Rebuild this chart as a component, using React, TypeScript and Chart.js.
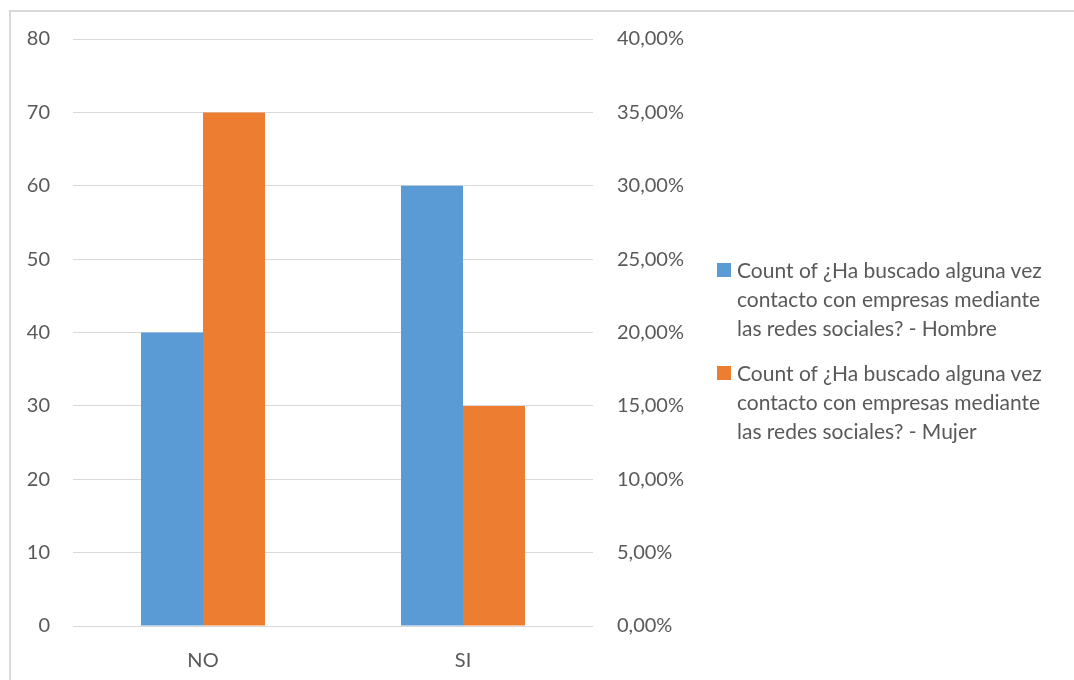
import React, { useEffect, useRef } from "react";
import { Chart, registerables } from "chart.js";

Chart.register(...registerables);

// Categories and series values
const categories = ["NO", "SI"];
const hombreCounts = [40, 60];
const mujerCounts = [70, 30];

// Axis ranges
const countMax = 80;
const countStep = 10;
const pctMax = 0.4;
const pctStep = 0.05;

// Legend text, one entry per series, broken into lines
const hombreLabelLines = [
  "Count of ¿Ha buscado alguna vez",
  "contacto con empresas mediante",
  "las redes sociales? - Hombre",
];
const mujerLabelLines = [
  "Count of ¿Ha buscado alguna vez",
  "contacto con empresas mediante",
  "las redes sociales? - Mujer",
];

const BLUE = "#5B9BD5";
const ORANGE = "#ED7D31";
const TEXT = "#595959";
const GRID = "#D9D9D9";
const FONT = "Lato, 'Open Sans', sans-serif";

const W = 1074;
const H = 680;

function formatPct(v: number): string {
  return (v * 100).toFixed(2).replace(".", ",") + "%";
}

function LegendEntry({ color, lines, top }: { color: string; lines: string[]; top: number }) {
  return (
    <div style={{ position: "absolute", left: 717, top, display: "flex", alignItems: "flex-start" }}>
      <div style={{ width: 14, height: 14, background: color, marginTop: 8, marginRight: 6, flex: "none" }} />
      <div style={{ fontFamily: FONT, fontSize: 21, lineHeight: "29px", color: TEXT, whiteSpace: "nowrap" }}>
        {lines.map((l, i) => (
          <div key={i}>{l}</div>
        ))}
      </div>
    </div>
  );
}

export default function App() {
  const canvasRef = useRef<HTMLCanvasElement | null>(null);

  useEffect(() => {
    if (!canvasRef.current) return;
    const tickFont = { family: FONT, size: 20 };
    const chart = new Chart(canvasRef.current, {
      type: "bar",
      data: {
        labels: categories,
        datasets: [
          {
            label: hombreLabelLines.join(" "),
            data: hombreCounts,
            backgroundColor: BLUE,
            yAxisID: "y",
            barPercentage: 1,
            categoryPercentage: 0.477,
          },
          {
            label: mujerLabelLines.join(" "),
            data: mujerCounts,
            backgroundColor: ORANGE,
            yAxisID: "y",
            barPercentage: 1,
            categoryPercentage: 0.477,
          },
        ],
      },
      options: {
        responsive: false,
        animation: false,
        devicePixelRatio: 1,
        layout: { padding: { left: 0, top: 39, right: 0, bottom: 0 } },
        plugins: {
          legend: { display: false },
          tooltip: { enabled: false },
        },
        scales: {
          x: {
            grid: { display: false, drawTicks: false },
            border: { display: false },
            ticks: { color: TEXT, font: tickFont, padding: 23 },
            afterFit: (s: any) => {
              s.height = 54;
            },
          },
          y: {
            position: "left",
            min: 0,
            max: countMax,
            ticks: {
              stepSize: countStep,
              color: TEXT,
              font: tickFont,
              padding: 23,
            },
            grid: { color: GRID, lineWidth: 1, drawTicks: false },
            border: { display: false },
            afterFit: (s: any) => {
              s.width = 73;
            },
          },
          y2: {
            position: "right",
            min: 0,
            max: pctMax,
            ticks: {
              stepSize: pctStep,
              color: TEXT,
              font: tickFont,
              padding: 24,
              callback: (v: any) => formatPct(Number(v)),
            },
            grid: { display: false, drawTicks: false },
            border: { display: false },
            afterFit: (s: any) => {
              s.width = W - 593;
            },
          },
        },
      },
    });
    return () => chart.destroy();
  }, []);

  return (
    <div style={{ position: "fixed", left: 0, top: 0, width: W, height: H, background: "#fff", overflow: "hidden" }}>
      <div
        style={{
          position: "absolute",
          left: 9,
          top: 10,
          width: W,
          height: H,
          borderLeft: `2px solid ${GRID}`,
          borderTop: `2px solid ${GRID}`,
        }}
      />
      <canvas ref={canvasRef} width={W} height={H} style={{ position: "absolute", left: 0, top: 0 }} />
      <LegendEntry color={BLUE} lines={hombreLabelLines} top={255} />
      <LegendEntry color={ORANGE} lines={mujerLabelLines} top={358} />
    </div>
  );
}
